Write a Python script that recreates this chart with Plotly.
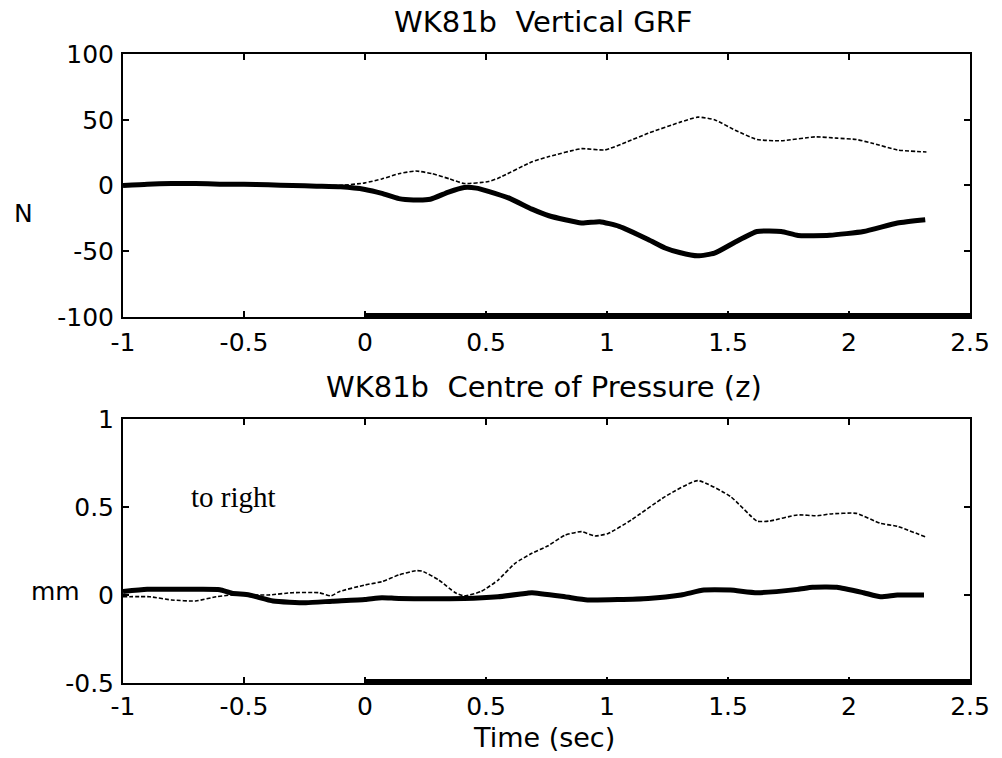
import plotly.graph_objects as go

# ---- Top panel: Vertical GRF (N) ----
grf_thick_t = [-1.0, -0.9, -0.8, -0.7, -0.6, -0.5, -0.4, -0.3, -0.2, -0.1, 0.0, 0.07, 0.14, 0.2, 0.27,
               0.345, 0.41, 0.46, 0.51, 0.6, 0.69, 0.76, 0.895, 0.97, 1.05, 1.17, 1.24, 1.3, 1.375,
               1.444, 1.53, 1.62, 1.72, 1.79, 1.92, 2.06, 2.2, 2.315]
grf_thick_v = [0, 1, 1.5, 1.5, 1, 1, 0.5, 0, -0.5, -1, -3, -6, -10, -11, -10.5,
               -5, -1.5, -2, -4.5, -10, -18, -23, -28.5, -27.5, -31, -41, -47.5, -51, -53.5,
               -51.5, -43, -35, -35, -38, -37.8, -35, -28.5, -26]

grf_thin_t = [-1.0, -0.9, -0.7, -0.5, -0.3, -0.1, 0.0, 0.07, 0.14, 0.21, 0.277, 0.35, 0.41, 0.51,
              0.55, 0.69, 0.76, 0.895, 0.99, 1.08, 1.17, 1.3, 1.375, 1.444, 1.53, 1.62, 1.72,
              1.86, 1.95, 2.03, 2.1, 2.2, 2.32]
grf_thin_v = [0, 1, 1, 1, 0, 0, 2, 5, 9, 11, 9, 5, 1.5, 3,
              5.5, 18, 22, 28, 27, 33, 39.7, 48, 52, 50, 42, 35, 34,
              37, 36, 35, 32, 27, 25.5]

# ---- Bottom panel: Centre of Pressure (z) (mm) ----
cop_thick_t = [-1.0, -0.9, -0.7, -0.6, -0.55, -0.478, -0.38, -0.244, -0.135, 0.0, 0.07, 0.14, 0.41,
               0.55, 0.67, 0.69, 0.826, 0.92, 1.17, 1.306, 1.4, 1.51, 1.62, 1.787, 1.85, 1.95,
               2.06, 2.13, 2.2, 2.31]
cop_thick_v = [0.02, 0.032, 0.032, 0.03, 0.01, 0.0, -0.034, -0.044, -0.035, -0.025, -0.015, -0.02, -0.02,
               -0.01, 0.01, 0.013, -0.01, -0.028, -0.02, 0.0, 0.028, 0.028, 0.013, 0.032, 0.044, 0.044,
               0.013, -0.01, 0.0, 0.0]

cop_thin_t = [-1.0, -0.89, -0.8, -0.7, -0.615, -0.55, -0.4, -0.3, -0.19, -0.14, -0.107, 0.0, 0.07,
              0.14, 0.21, 0.236, 0.305, 0.373, 0.41, 0.48, 0.55, 0.62, 0.69, 0.757, 0.826, 0.895,
              0.95, 1.005, 1.1, 1.24, 1.375, 1.51, 1.62, 1.67, 1.787, 1.87, 1.92, 2.03, 2.13,
              2.2, 2.316]
cop_thin_v = [-0.01, -0.01, -0.028, -0.034, -0.01, 0.0, 0.0, 0.013, 0.013, -0.005, 0.019, 0.057, 0.076,
              0.114, 0.138, 0.136, 0.085, 0.013, -0.005, 0.02, 0.085, 0.18, 0.237, 0.28, 0.34, 0.36,
              0.335, 0.35, 0.426, 0.559, 0.65, 0.56, 0.42, 0.42, 0.455, 0.45, 0.46, 0.464, 0.407,
              0.39, 0.33]

# event bar (stance period) along the bottom of each panel
event_t = [0.0, 2.5]

x_ticks = [-1, -0.5, 0, 0.5, 1, 1.5, 2, 2.5]
x_ticktext = ["-1", "-0.5", "0", "0.5", "1", "1.5", "2", "2.5"]
grf_ticks = [-100, -50, 0, 50, 100]
grf_ticktext = ["-100", "-50", "0", "50", "100"]
cop_ticks = [-0.5, 0, 0.5, 1]
cop_ticktext = ["-0.5", "0", "0.5", "1"]

FONT = "DejaVu Sans"

fig = go.Figure()

fig.add_trace(go.Scatter(x=grf_thin_t, y=grf_thin_v, mode="lines",
                         line=dict(color="black", width=1.6, dash="4px,2px",
                                   shape="spline", smoothing=0.5),
                         xaxis="x", yaxis="y", showlegend=False))
fig.add_trace(go.Scatter(x=grf_thick_t, y=grf_thick_v, mode="lines",
                         line=dict(color="black", width=5, shape="spline", smoothing=0.5),
                         xaxis="x", yaxis="y", showlegend=False))
fig.add_trace(go.Scatter(x=event_t, y=[-100, -100], mode="lines",
                         line=dict(color="black", width=8), cliponaxis=False,
                         xaxis="x", yaxis="y", showlegend=False))

fig.add_trace(go.Scatter(x=cop_thin_t, y=cop_thin_v, mode="lines",
                         line=dict(color="black", width=1.6, dash="4px,2px",
                                   shape="spline", smoothing=0.5),
                         xaxis="x2", yaxis="y2", showlegend=False))
fig.add_trace(go.Scatter(x=cop_thick_t, y=cop_thick_v, mode="lines",
                         line=dict(color="black", width=5, shape="spline", smoothing=0.5),
                         xaxis="x2", yaxis="y2", showlegend=False))
fig.add_trace(go.Scatter(x=event_t, y=[-0.5, -0.5], mode="lines",
                         line=dict(color="black", width=8), cliponaxis=False,
                         xaxis="x2", yaxis="y2", showlegend=False))

axis_common = dict(showline=True, linecolor="black", linewidth=2, mirror="allticks",
                   ticks="inside", ticklen=6, tickwidth=1.5, tickcolor="black",
                   showgrid=False, zeroline=False,
                   tickfont=dict(family=FONT, size=25, color="black"))

fig.update_layout(
    width=1002, height=758,
    margin=dict(l=123, r=29, t=54, b=75),
    paper_bgcolor="white", plot_bgcolor="white",
    xaxis=dict(domain=[0, 1], anchor="y", range=[-1, 2.5], tickvals=x_ticks,
               ticktext=x_ticktext, ticklabelstandoff=2, **axis_common),
    yaxis=dict(domain=[0.5819, 1], anchor="x", range=[-100, 100], tickvals=grf_ticks,
               ticktext=grf_ticktext, ticklabelstandoff=2, **axis_common),
    xaxis2=dict(domain=[0, 1], anchor="y2", range=[-1, 2.5], tickvals=x_ticks,
                ticktext=x_ticktext, ticklabelstandoff=0, **axis_common),
    yaxis2=dict(domain=[0, 0.4197], anchor="x2", range=[-0.5, 1], tickvals=cop_ticks,
                ticktext=cop_ticktext, ticklabelstandoff=2, **axis_common),
)

ann_font = dict(family=FONT, size=29, color="black")
fig.add_annotation(text="WK81b  Vertical GRF", xref="paper", yref="paper",
                   x=0.4965, y=1.0509, xanchor="center", yanchor="middle",
                   showarrow=False, font=ann_font)
fig.add_annotation(text="WK81b  Centre of Pressure (z)", xref="paper", yref="paper",
                   x=0.4965, y=0.4706, xanchor="center", yanchor="middle",
                   showarrow=False, font=ann_font)
fig.add_annotation(text="Time (sec)", xref="paper", yref="paper",
                   x=0.4965, y=-0.0874, xanchor="center", yanchor="middle",
                   showarrow=False, font=dict(family=FONT, size=27, color="black"))
fig.add_annotation(text="N", xref="paper", yref="paper",
                   x=-0.1176, y=0.747, xanchor="center", yanchor="middle",
                   showarrow=False, font=dict(family=FONT, size=25, color="black"))
fig.add_annotation(text="mm", xref="paper", yref="paper",
                   x=-0.08, y=0.1447, xanchor="center", yanchor="middle",
                   showarrow=False, font=dict(family=FONT, size=25, color="black"))
fig.add_annotation(text="to right", xref="x2", yref="y2",
                   x=-0.543, y=0.557, xanchor="center", yanchor="middle",
                   showarrow=False, font=dict(family="Liberation Serif", size=29, color="black"))

fig.write_html("out.html")
